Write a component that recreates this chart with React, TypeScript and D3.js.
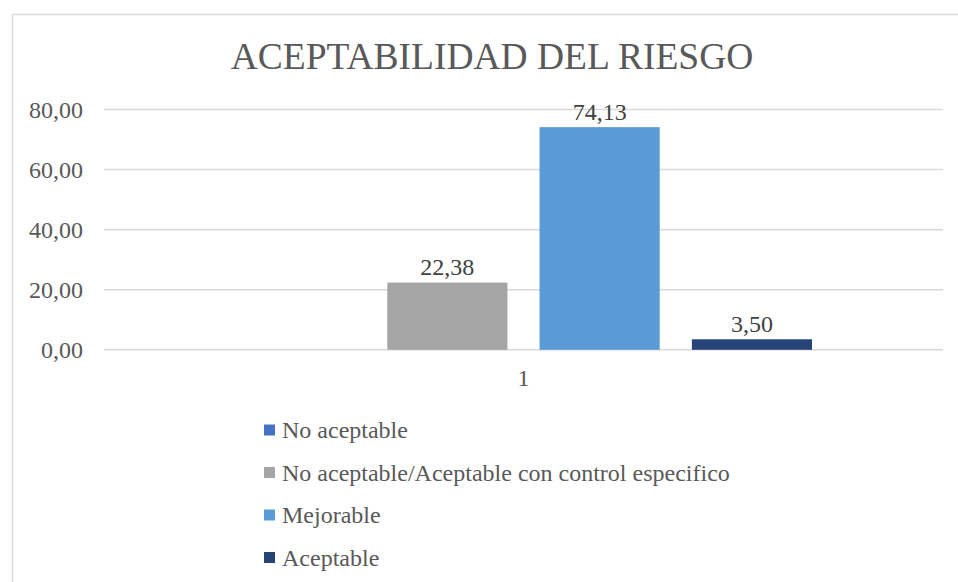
import React from "react";
import * as d3 from "d3";

const categories = ["1"];
const seriesNames = [
  "No aceptable",
  "No aceptable/Aceptable con control especifico",
  "Mejorable",
  "Aceptable",
];
const seriesValues = [0, 22.38, 74.13, 3.5];
const seriesColors = ["#4472C4", "#A5A5A5", "#5B9BD5", "#264478"];
const yTicks = [0, 20, 40, 60, 80];
const title = "ACEPTABILIDAD DEL RIESGO";

const W = 958;
const H = 582;
const plotLeft = 104;
const plotRight = 943;
const plotTop = 109.5;
const plotBottom = 349.8;
const FONT = "Liberation Serif";
const TEXT = "#595959";
const LABEL = "#404040";
const fmt = (v: number) => v.toFixed(2).replace(".", ",");

export default function App() {
  const y = d3.scaleLinear().domain([0, 80]).range([plotBottom, plotTop]);
  const x0 = d3
    .scaleBand<string>()
    .domain(categories)
    .range([plotLeft, plotRight])
    .paddingInner(0)
    .paddingOuter(0.227);
  const x1 = d3
    .scaleBand<string>()
    .domain(seriesNames)
    .range([0, x0.bandwidth()])
    .paddingInner(0.211)
    .paddingOuter(0);

  const ts = { fontFamily: FONT };

  return (
    <svg
      width={W}
      height={H}
      style={{ position: "absolute", left: 0, top: 0, background: "#fff", fontFamily: FONT }}
    >
      <rect x={0} y={0} width={W} height={H} fill="#fff" />
      <line x1={12.5} y1={14.5} x2={W} y2={14.5} stroke="#D9D9D9" strokeWidth={1.5} />
      <line x1={12.5} y1={14.5} x2={12.5} y2={H} stroke="#D9D9D9" strokeWidth={1.5} />
      <text x={492} y={69} textAnchor="middle" fontSize={37.5} fill={TEXT} style={ts}>
        {title}
      </text>
      {yTicks.map((t) => (
        <g key={t}>
          <line x1={plotLeft} x2={plotRight} y1={y(t)} y2={y(t)} stroke="#D9D9D9" strokeWidth={1.5} />
          <text x={83} y={y(t) + 8.5} textAnchor="end" fontSize={24} fill={TEXT} style={ts}>
            {fmt(t)}
          </text>
        </g>
      ))}
      {categories.map((c) => (
        <g key={c} transform={`translate(${x0(c)},0)`}>
          {seriesNames.map((s, i) => {
            const v = seriesValues[i];
            const bx = x1(s)!;
            return (
              <g key={s}>
                <rect
                  x={bx}
                  y={y(v)}
                  width={x1.bandwidth()}
                  height={plotBottom - y(v)}
                  fill={seriesColors[i]}
                />
                {v > 0 && (
                  <text
                    x={bx + x1.bandwidth() / 2}
                    y={y(v) - 7.5}
                    textAnchor="middle"
                    fontSize={24}
                    fill={LABEL}
                    style={ts}
                  >
                    {fmt(v)}
                  </text>
                )}
              </g>
            );
          })}
          <text x={x0.bandwidth() / 2} y={386} textAnchor="middle" fontSize={24} fill={TEXT} style={ts}>
            {c}
          </text>
        </g>
      ))}
      {seriesNames.map((s, i) => {
        const ly = 430 + i * 42.5;
        return (
          <g key={s}>
            <rect x={264} y={ly - 5.5} width={11} height={11} fill={seriesColors[i]} />
            <text x={282} y={ly + 8} fontSize={24} fill={TEXT} style={ts}>
              {s}
            </text>
          </g>
        );
      })}
    </svg>
  );
}
